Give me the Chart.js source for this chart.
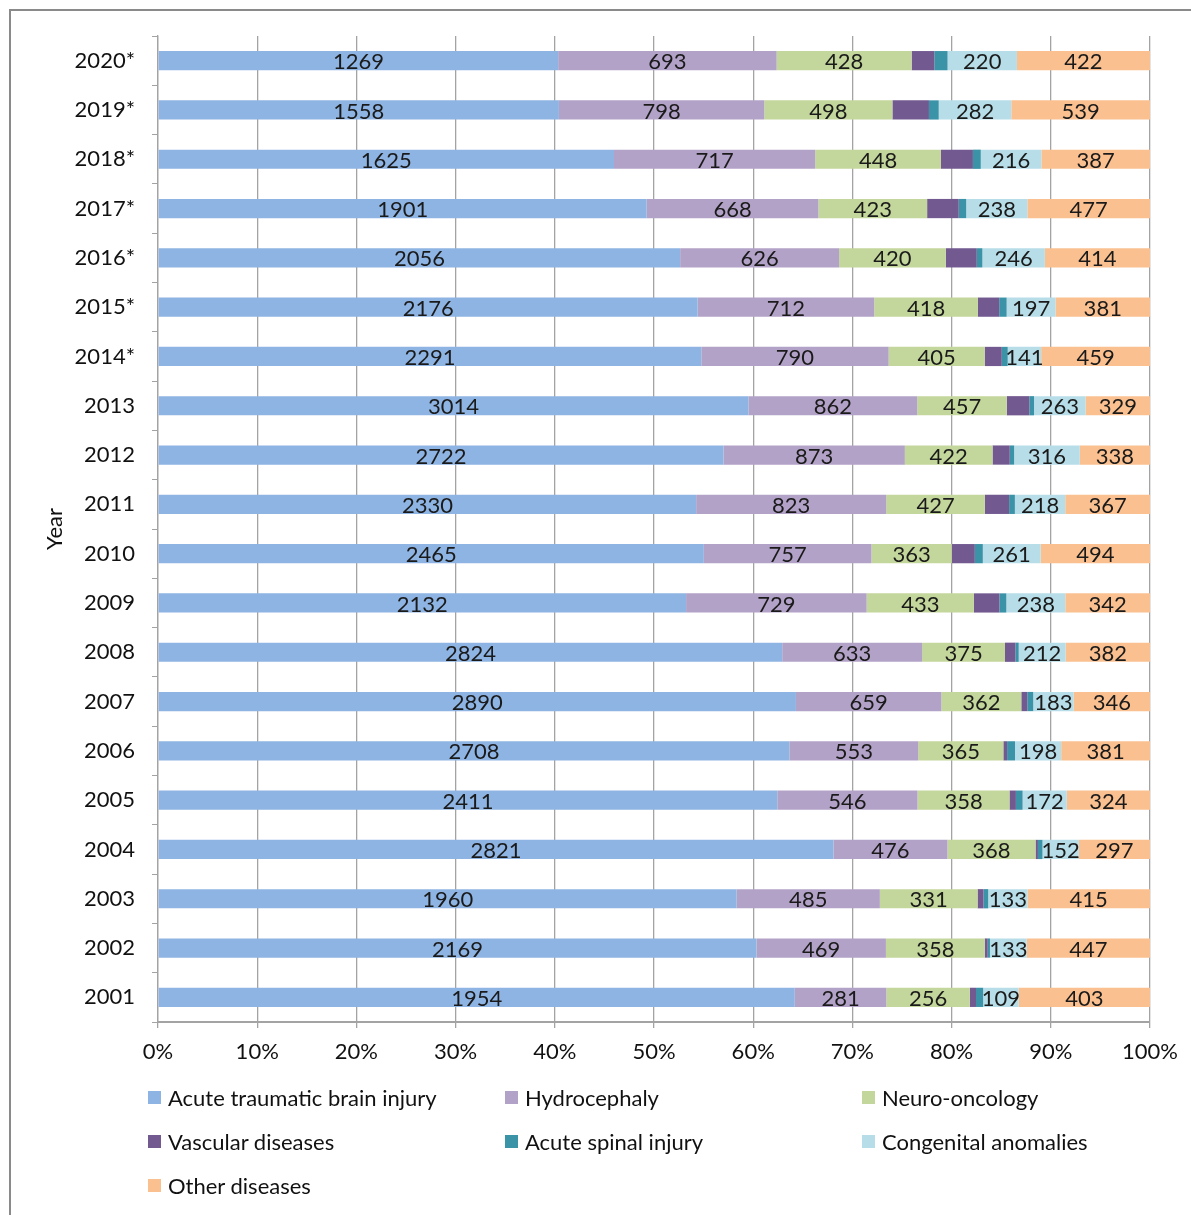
<!DOCTYPE html>
<html>
<head>
<meta charset="utf-8">
<script src="https://cdn.jsdelivr.net/npm/chart.js@4.4.1/dist/chart.umd.min.js"></script>
<style>
  html, body { margin: 0; padding: 0; background: #fff; overflow: hidden; width: 1191px; height: 1215px; }
  #frame { position: absolute; left: 9px; top: 9px; width: 1300px; height: 1300px; border: 2px solid #8a8a8a; }
  #wrap { position: absolute; left: 0; top: 0; width: 1191px; height: 1070px; }
  #legend { position: absolute; left: 0; top: 0; width: 1191px; height: 1215px; pointer-events: none;
            font-family: Lato, "Open Sans", sans-serif; font-size: 22px; color: #111; }
  .item { position: absolute; display: flex; align-items: center; height: 26px; white-space: nowrap; }
  .box { width: 13px; height: 13px; margin-right: 7px; }
</style>
</head>
<body>
<div id="frame"></div>
<div id="wrap"><canvas id="c" width="1191" height="1070"></canvas></div>
<div id="legend"></div>
<script>
const years = ['2020*','2019*','2018*','2017*','2016*','2015*','2014*','2013','2012','2011','2010','2009','2008','2007','2006','2005','2004','2003','2002','2001'];
const seriesNames = ['Acute traumatic brain injury','Hydrocephaly','Neuro-oncology','Vascular diseases','Acute spinal injury','Congenital anomalies','Other diseases'];
const atbi   = [1269,1558,1625,1901,2056,2176,2291,3014,2722,2330,2465,2132,2824,2890,2708,2411,2821,1960,2169,1954];
const hydro  = [693,798,717,668,626,712,790,862,873,823,757,729,633,659,553,546,476,485,469,281];
const onco   = [428,498,448,423,420,418,405,457,422,427,363,433,375,362,365,358,368,331,358,256];
const vasc   = [72,142,114,123,122,86,72,115,83,105,104,103,47,27,16,25,10,20,11,19];
const spinal = [42,38,28,29,22,30,25,24,21,25,36,28,15,27,34,26,19,16,8,22];
const congen = [220,282,216,238,246,197,141,263,316,218,261,238,212,183,198,172,152,133,133,109];
const other  = [422,539,387,477,414,381,459,329,338,367,494,342,382,346,381,324,297,415,447,403];
const xTicks = [0,10,20,30,40,50,60,70,80,90,100];

const colors = ['#8EB4E3','#B3A2C7','#C3D69B','#725A91','#3B93A8','#B7DEE8','#FAC090'];
const showLabel = [true,true,true,false,false,true,true];
const allSeries = [atbi,hydro,onco,vasc,spinal,congen,other];

const totals = years.map((_, i) => allSeries.reduce((s, arr) => s + arr[i], 0));

const datasets = allSeries.map((arr, k) => ({
  label: seriesNames[k],
  data: arr.map((v, i) => v / totals[i] * 100),
  raw: arr,
  backgroundColor: colors[k],
  borderWidth: 0,
  categoryPercentage: 1.0,
  barPercentage: 0.39,
  showValue: showLabel[k]
}));

const FONT = 'Lato, "Open Sans", sans-serif';
const FS = 22;

const valueLabels = {
  id: 'valueLabels',
  afterDatasetsDraw(chart) {
    const ctx = chart.ctx;
    ctx.save();
    ctx.font = FS + 'px ' + FONT;
    ctx.fillStyle = '#1a1a1a';
    ctx.textAlign = 'center';
    ctx.textBaseline = 'middle';
    chart.data.datasets.forEach((ds, di) => {
      if (!ds.showValue) return;
      const meta = chart.getDatasetMeta(di);
      meta.data.forEach((el, i) => {
        const cx = (el.x + el.base) / 2;
        ctx.fillText(String(ds.raw[i]), cx, el.y + 1.5);
      });
    });
    ctx.restore();
  }
};

const chart = new Chart(document.getElementById('c'), {
  type: 'bar',
  data: { labels: years, datasets },
  options: {
    indexAxis: 'y',
    responsive: false,
    animation: false,
    layout: { padding: { left: 40, top: 36, right: 41, bottom: 0 } },
    plugins: { legend: { display: false }, tooltip: { enabled: false } },
    scales: {
      x: {
        stacked: true,
        min: 0, max: 100,
        afterBuildTicks(scale) { scale.ticks = xTicks.map(v => ({ value: v })); },
        afterFit(scale) { scale.height = 48; },
        grid: { color: '#a3a3a3', lineWidth: 1.3, drawTicks: true, tickLength: 6, tickColor: '#a3a3a3' },
        border: { display: true, color: '#a3a3a3', width: 2 },
        ticks: { callback: v => v + '%', color: '#111', font: { family: FONT, size: FS }, padding: 11, maxRotation: 0 }
      },
      y: {
        stacked: true,
        afterFit(scale) { scale.width = 118; },
        grid: { drawOnChartArea: false, drawTicks: true, tickLength: 6, color: '#a3a3a3', offset: true },
        border: { display: true, color: '#a3a3a3', width: 1.3 },
        ticks: { color: '#111', font: { family: FONT, size: FS }, padding: 17 },
        title: { display: true, text: 'Year', color: '#111', font: { family: FONT, size: FS }, padding: { top: 2, bottom: 0 } }
      }
    }
  },
  plugins: [valueLabels]
});

// HTML legend built from the chart's datasets
const legend = document.getElementById('legend');
const colX = [148, 505, 862];
const rowY = [1097, 1141, 1185];
chart.data.datasets.forEach((ds, k) => {
  const item = document.createElement('div');
  item.className = 'item';
  item.style.left = colX[k % 3] + 'px';
  item.style.top = (rowY[Math.floor(k / 3)] - 13) + 'px';
  const box = document.createElement('span');
  box.className = 'box';
  box.style.background = ds.backgroundColor;
  const txt = document.createElement('span');
  txt.textContent = ds.label;
  item.appendChild(box);
  item.appendChild(txt);
  legend.appendChild(item);
});
</script>
</body>
</html>
